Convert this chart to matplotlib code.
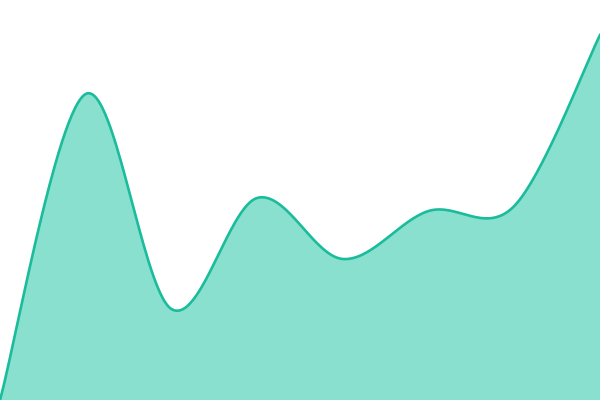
import matplotlib
matplotlib.use('Agg')
import matplotlib.pyplot as plt
import numpy as np

# data points (evenly spaced)
values = [0, 306, 91, 202, 141, 189, 194, 365]
index = np.arange(len(values))


def cardinal(x, y, steps=60):
    # catmull-rom style curve through the points, ends duplicated
    x = np.asarray(x, float)
    y = np.asarray(y, float)
    px = np.concatenate([[x[0]], x, [x[-1]]])
    py = np.concatenate([[y[0]], y, [y[-1]]])
    t = np.linspace(0, 1, steps)
    xs, ys = [], []
    for i in range(1, len(px) - 2):
        x0, x1, x2, x3 = px[i - 1], px[i], px[i + 1], px[i + 2]
        y0, y1, y2, y3 = py[i - 1], py[i], py[i + 1], py[i + 2]
        cx1, cy1 = x1 + (x2 - x0) / 6, y1 + (y2 - y0) / 6
        cx2, cy2 = x2 - (x3 - x1) / 6, y2 - (y3 - y1) / 6
        b0 = (1 - t) ** 3
        b1 = 3 * (1 - t) ** 2 * t
        b2 = 3 * (1 - t) * t ** 2
        b3 = t ** 3
        xs.append(b0 * x1 + b1 * cx1 + b2 * cx2 + b3 * x2)
        ys.append(b0 * y1 + b1 * cy1 + b2 * cy2 + b3 * y2)
    return np.concatenate(xs), np.concatenate(ys)


cx, cy = cardinal(index, values)

fig = plt.figure(figsize=(6, 4), dpi=100)
ax = fig.add_axes([0, 0, 1, 1])
ax.fill_between(cx, cy, 0, color='#89e0cf', linewidth=0)
ax.plot(cx, cy, color='#1abc9c', linewidth=1.9)
ax.set_xlim(0, len(values) - 1)
ax.set_ylim(0, 400)
ax.axis('off')

fig.savefig('out.png', dpi=100)
